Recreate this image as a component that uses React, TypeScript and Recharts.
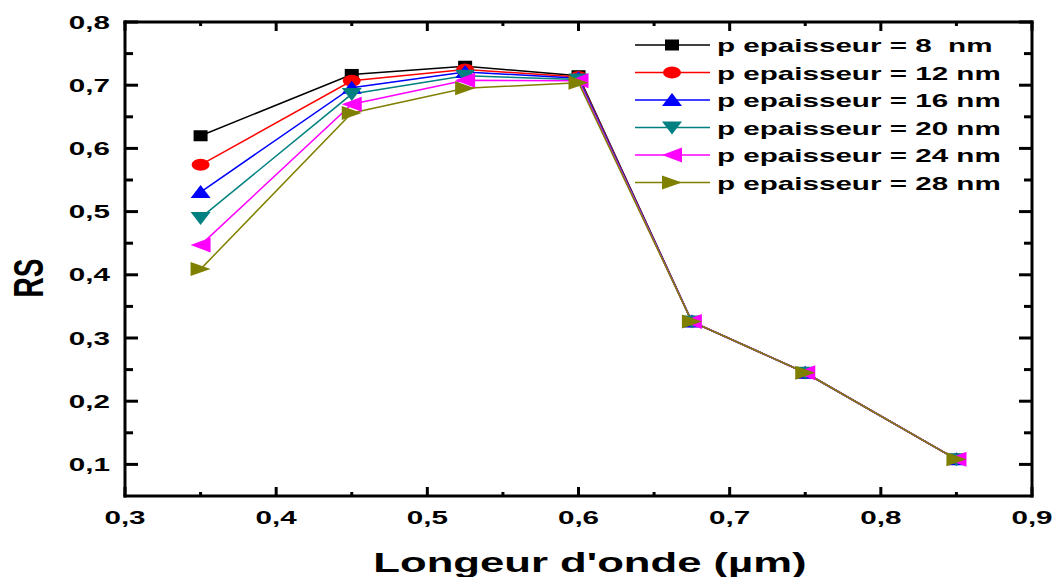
import React from 'react';
import { LineChart, Line, XAxis, YAxis, Legend } from 'recharts';

// ---- data ----
const wavelengths = [0.35, 0.45, 0.525, 0.6, 0.675, 0.75, 0.85];
const rs8 = [0.62, 0.717, 0.73, 0.715, 0.326, 0.245, 0.108];
const rs12 = [0.574, 0.707, 0.725, 0.713, 0.326, 0.245, 0.108];
const rs16 = [0.531, 0.696, 0.721, 0.711, 0.326, 0.245, 0.108];
const rs20 = [0.49, 0.686, 0.715, 0.709, 0.326, 0.245, 0.108];
const rs24 = [0.447, 0.67, 0.708, 0.707, 0.326, 0.245, 0.108];
const rs28 = [0.409, 0.656, 0.695, 0.704, 0.326, 0.245, 0.108];

const seriesKeys = ['s8', 's12', 's16', 's20', 's24', 's28'];
const seriesNames = [
  'p epaisseur = 8  nm',
  'p epaisseur = 12 nm',
  'p epaisseur = 16 nm',
  'p epaisseur = 20 nm',
  'p epaisseur = 24 nm',
  'p epaisseur = 28 nm',
];
const seriesColors = ['#000000', '#ff0000', '#0000ff', '#008080', '#ff00ff', '#808000'];
const seriesMarkers = ['square', 'circle', 'up', 'down', 'left', 'right'];
const seriesValues = [rs8, rs12, rs16, rs20, rs24, rs28];

const xTicks = [0.3, 0.35, 0.4, 0.45, 0.5, 0.55, 0.6, 0.65, 0.7, 0.75, 0.8, 0.85, 0.9];
const yTicks = [0.1, 0.15, 0.2, 0.25, 0.3, 0.35, 0.4, 0.45, 0.5, 0.55, 0.6, 0.65, 0.7, 0.75, 0.8];
const xDomain = [0.3, 0.9];
const yDomain = [0.05, 0.8];
const xTitle = "Longeur d'onde (µm)";
const yTitle = 'RS';

const data = wavelengths.map((w, i) => {
  const row: any = { x: w };
  seriesKeys.forEach((k, j) => {
    row[k] = seriesValues[j][i];
  });
  return row;
});

const FONT = "'Liberation Sans', Arial, sans-serif";
const SX = 1.6;

const isMajor = (v: number) => Math.abs(v * 10 - Math.round(v * 10)) < 1e-6;
const fmt = (v: number) => v.toFixed(1).replace('.', ',');

function Marker({ kind, cx, cy, color }: any) {
  if (cx == null || cy == null) return null;
  switch (kind) {
    case 'square':
      return <rect x={cx - 7} y={cy - 5.5} width={14} height={11} fill={color} />;
    case 'circle':
      return <ellipse cx={cx} cy={cy} rx={9} ry={6} fill={color} />;
    case 'up':
      return <polygon points={`${cx},${cy - 7} ${cx + 10},${cy + 6} ${cx - 10},${cy + 6}`} fill={color} />;
    case 'down':
      return <polygon points={`${cx - 10},${cy - 6} ${cx + 10},${cy - 6} ${cx},${cy + 7}`} fill={color} />;
    case 'left':
      return <polygon points={`${cx - 10},${cy} ${cx + 10},${cy - 7.5} ${cx + 10},${cy + 7.5}`} fill={color} />;
    case 'right':
      return <polygon points={`${cx + 10},${cy} ${cx - 10},${cy - 7} ${cx - 10},${cy + 7}`} fill={color} />;
    default:
      return null;
  }
}

const BottomTick = (props: any) => {
  const { x, y, payload } = props;
  const v = payload.value;
  const major = isMajor(v);
  return (
    <g>
      <line x1={x} x2={x} y1={y} y2={y - (major ? 9 : 4)} stroke="#000" strokeWidth={3} />
      {major && (
        <text
          transform={`translate(${x},${y + 28}) scale(${SX},1)`}
          textAnchor="middle"
          fontFamily={FONT}
          fontWeight="bold"
          fontSize={18.5}
          fill="#000"
        >
          {fmt(v)}
        </text>
      )}
    </g>
  );
};

const TopTick = (props: any) => {
  const { x, y, payload } = props;
  const major = isMajor(payload.value);
  return <line x1={x} x2={x} y1={y} y2={y + (major ? 9 : 4)} stroke="#000" strokeWidth={3} />;
};

const LeftTick = (props: any) => {
  const { x, y, payload } = props;
  const v = payload.value;
  const major = isMajor(v);
  return (
    <g>
      <line x1={x} x2={x + (major ? 13 : 8)} y1={y} y2={y} stroke="#000" strokeWidth={3} />
      {major && (
        <text
          transform={`translate(${x - 15},${y + 6.5}) scale(${SX},1)`}
          textAnchor="end"
          fontFamily={FONT}
          fontWeight="bold"
          fontSize={18.5}
          fill="#000"
        >
          {fmt(v)}
        </text>
      )}
    </g>
  );
};

const RightTick = (props: any) => {
  const { x, y, payload } = props;
  const major = isMajor(payload.value);
  return <line x1={x} x2={x - (major ? 13 : 8)} y1={y} y2={y} stroke="#000" strokeWidth={3} />;
};

const renderLegend = () => (
  <svg width={420} height={180} style={{ overflow: 'visible' }}>
    {seriesNames.map((name, i) => {
      const cy = 15 + i * 27.5;
      return (
        <g key={name}>
          <line x1={5} x2={80} y1={cy} y2={cy} stroke={seriesColors[i]} strokeWidth={1.5} />
          <Marker kind={seriesMarkers[i]} cx={42} cy={cy} color={seriesColors[i]} />
          <text
            transform={`translate(87,${cy + 7}) scale(1.6,1)`}
            fontFamily={FONT}
            fontWeight="bold"
            fontSize={18.5}
            fill="#000"
            xmlSpace="preserve"
            style={{ whiteSpace: 'pre' }}
          >
            {name}
          </text>
        </g>
      );
    })}
  </svg>
);

const axisLine = { stroke: '#000', strokeWidth: 3, strokeLinecap: 'square' } as any;

export default function App() {
  return (
    <div style={{ position: 'absolute', left: 0, top: 0, width: 1053, height: 577, background: '#fff' }}>
      <LineChart width={1053} height={577} data={data} margin={{ top: 0, right: 0, bottom: 0, left: 0 }}>
        <XAxis
          dataKey="x"
          type="number"
          domain={xDomain}
          ticks={xTicks}
          interval={0}
          allowDataOverflow
          height={81}
          tickSize={0}
          tickMargin={0}
          axisLine={axisLine}
          tickLine={false}
          tick={(p: any) => <BottomTick {...p} />}
          label={() => (
            <text
              transform={`translate(590,572) scale(1.56,1)`}
              textAnchor="middle"
              fontFamily={FONT}
              fontWeight="bold"
              fontSize={28}
              fill="#000"
            >
              {xTitle}
            </text>
          )}
        />
        <XAxis
          xAxisId="top"
          orientation="top"
          dataKey="x"
          type="number"
          domain={xDomain}
          ticks={xTicks}
          interval={0}
          allowDataOverflow
          height={22}
          tickSize={0}
          tickMargin={0}
          axisLine={axisLine}
          tickLine={false}
          tick={(p: any) => <TopTick {...p} />}
        />
        <YAxis
          type="number"
          domain={yDomain}
          ticks={yTicks}
          interval={0}
          allowDataOverflow
          width={125}
          tickSize={0}
          tickMargin={0}
          axisLine={axisLine}
          tickLine={false}
          tick={(p: any) => <LeftTick {...p} />}
          label={() => (
            <text
              transform={`translate(43,278) scale(1.55,1) rotate(-90)`}
              textAnchor="middle"
              fontFamily={FONT}
              fontWeight="bold"
              fontSize={28}
              fill="#000"
            >
              {yTitle}
            </text>
          )}
        />
        <YAxis
          yAxisId="right"
          orientation="right"
          type="number"
          domain={yDomain}
          ticks={yTicks}
          interval={0}
          allowDataOverflow
          width={21}
          tickSize={0}
          tickMargin={0}
          axisLine={axisLine}
          tickLine={false}
          tick={(p: any) => <RightTick {...p} />}
        />
        <Legend
          layout="vertical"
          align="center"
          verticalAlign="middle"
          wrapperStyle={{ left: 630, top: 30, width: 420, height: 180 }}
          content={renderLegend}
        />
        {seriesKeys.map((k, i) => (
          <Line
            key={k}
            dataKey={k}
            name={seriesNames[i]}
            stroke={seriesColors[i]}
            strokeWidth={1.5}
            isAnimationActive={false}
            activeDot={false}
            dot={(p: any) => (
              <Marker key={`${k}-${p.index}`} kind={seriesMarkers[i]} cx={p.cx} cy={p.cy} color={seriesColors[i]} />
            )}
          />
        ))}
      </LineChart>
    </div>
  );
}
